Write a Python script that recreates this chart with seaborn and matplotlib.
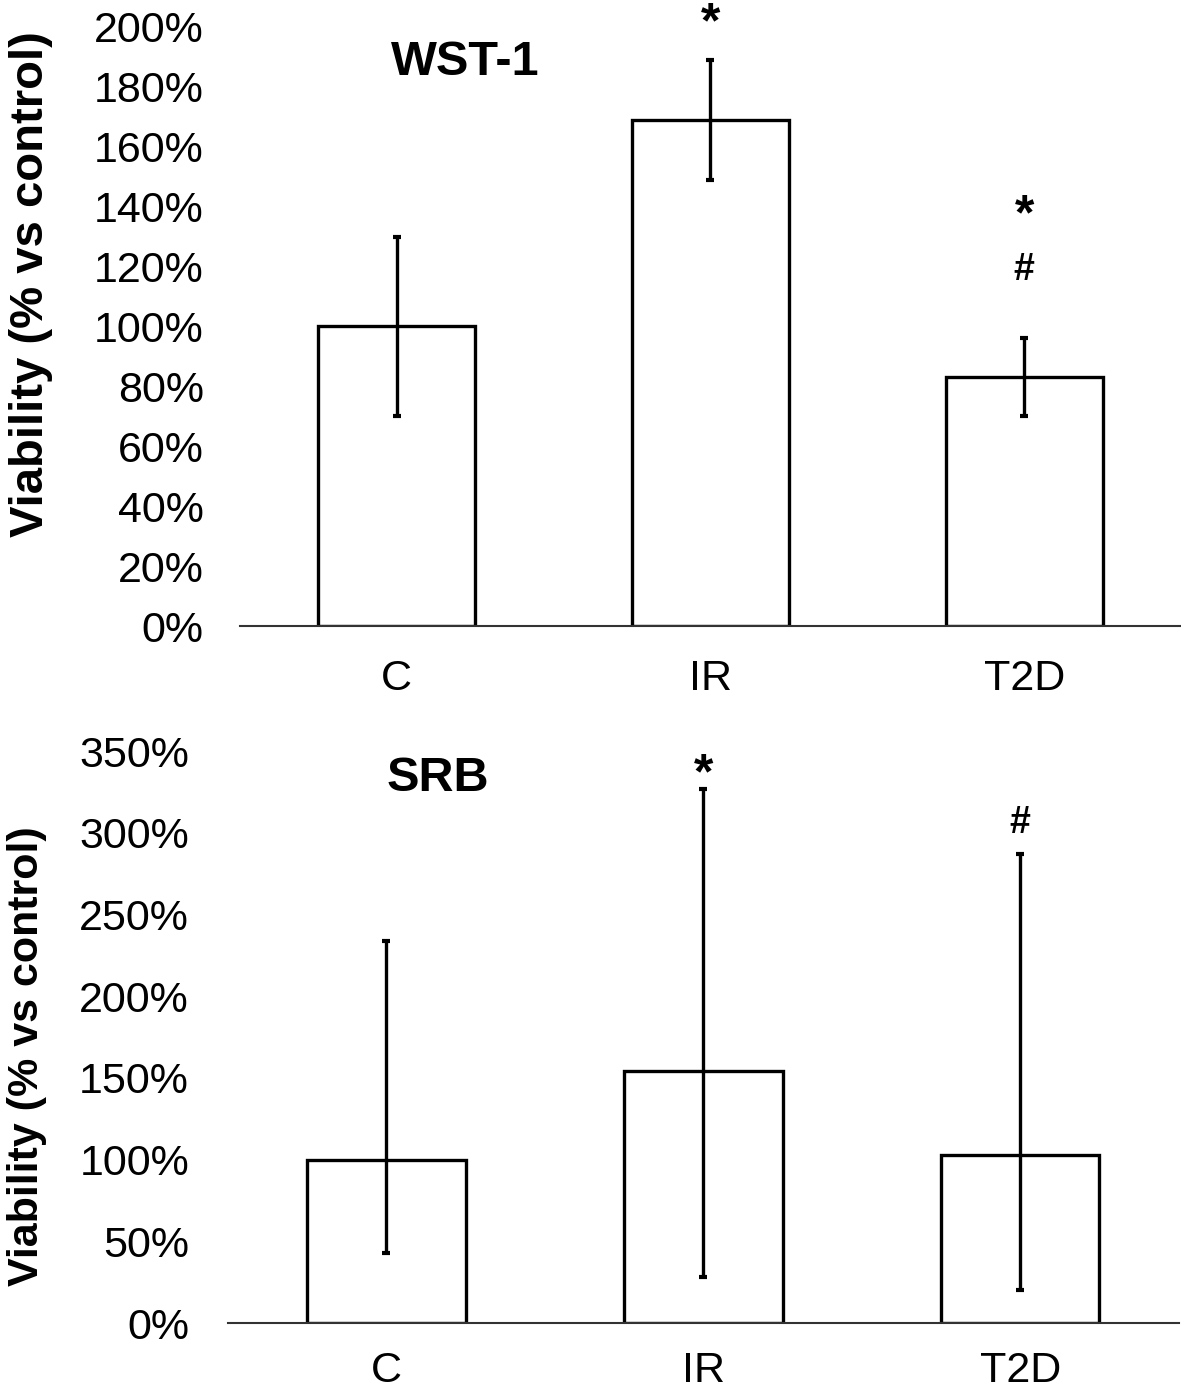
import pandas as pd
import seaborn as sns
import matplotlib.pyplot as plt
from matplotlib.ticker import PercentFormatter

groups = ["C", "IR", "T2D"]

# WST-1 (% vs control)
wst_mean = [100, 169, 83]
wst_err_low = [30, 20, 13]
wst_err_high = [30, 20, 13]

# SRB (% vs control)
srb_mean = [100, 154, 103]
srb_err_low = [57, 126, 83]
srb_err_high = [134, 173, 184]

# significance marks: symbol, group index, height (%)
wst_marks = [("*", 1, 205), ("*", 2, 141), ("#", 2, 119)]
srb_marks = [("*", 1, 343), ("#", 2, 306)]

sns.set_style("white")
plt.rcParams['font.family'] = ['Liberation Sans', 'DejaVu Sans']
plt.rcParams['text.color'] = 'black'
plt.rcParams['axes.labelcolor'] = 'black'
plt.rcParams['xtick.color'] = 'black'
plt.rcParams['ytick.color'] = 'black'

fig = plt.figure(figsize=(11.81, 13.89), dpi=100)
ax1 = fig.add_axes([0.2032, 0.5493, 0.7968, 0.4313])
ax2 = fig.add_axes([0.1930, 0.0475, 0.8050, 0.4118])


def panel(ax, mean, lo, hi, ymax, step, title, title_x, title_y, marks, lab_size, xpad, ypad):
    df = pd.DataFrame({"group": groups, "value": mean})
    sns.barplot(data=df, x="group", y="value", ax=ax, color="white",
                edgecolor="black", linewidth=2.4, width=0.5, errorbar=None)
    ax.errorbar(range(len(groups)), mean, yerr=[lo, hi], fmt="none",
                ecolor="black", elinewidth=2.4, capsize=3, capthick=3)
    ax.set_xlim(-0.5, 2.5)
    ax.set_ylim(0, ymax)
    ax.set_yticks(range(0, ymax + 1, step))
    ax.yaxis.set_major_formatter(PercentFormatter(decimals=0))
    ax.tick_params(axis="both", labelsize=31, length=0)
    ax.tick_params(axis="x", pad=xpad)
    ax.tick_params(axis="y", pad=ypad)
    for s in ["top", "right", "left"]:
        ax.spines[s].set_visible(False)
    ax.spines["bottom"].set_color("#333333")
    ax.spines["bottom"].set_linewidth(1.5)
    ax.set_xlabel("")
    ax.set_ylabel("Viability (% vs control)", fontsize=lab_size, fontweight="bold")
    ax.text(title_x, title_y, title, fontsize=35, fontweight="bold",
            ha="center", va="center")
    for sym, x, y in marks:
        size = 36 if sym == "*" else 27
        dy = -9 if sym == "*" else 0
        ax.annotate(sym, (x, y), xytext=(0, dy), textcoords="offset points",
                    fontsize=size, fontweight="bold", ha="center",
                    va="center", annotation_clip=False)


panel(ax1, wst_mean, wst_err_low, wst_err_high, 200, 20, "WST-1", 0.218, 188,
      wst_marks, 34, 24, 26)
panel(ax2, srb_mean, srb_err_low, srb_err_high, 350, 50, "SRB", 0.162, 333,
      srb_marks, 31, 20, 28)

ax1.yaxis.set_label_coords(-0.199, 0.571)
ax2.yaxis.set_label_coords(-0.19, 0.467)

fig.savefig("out.png", dpi=100)
